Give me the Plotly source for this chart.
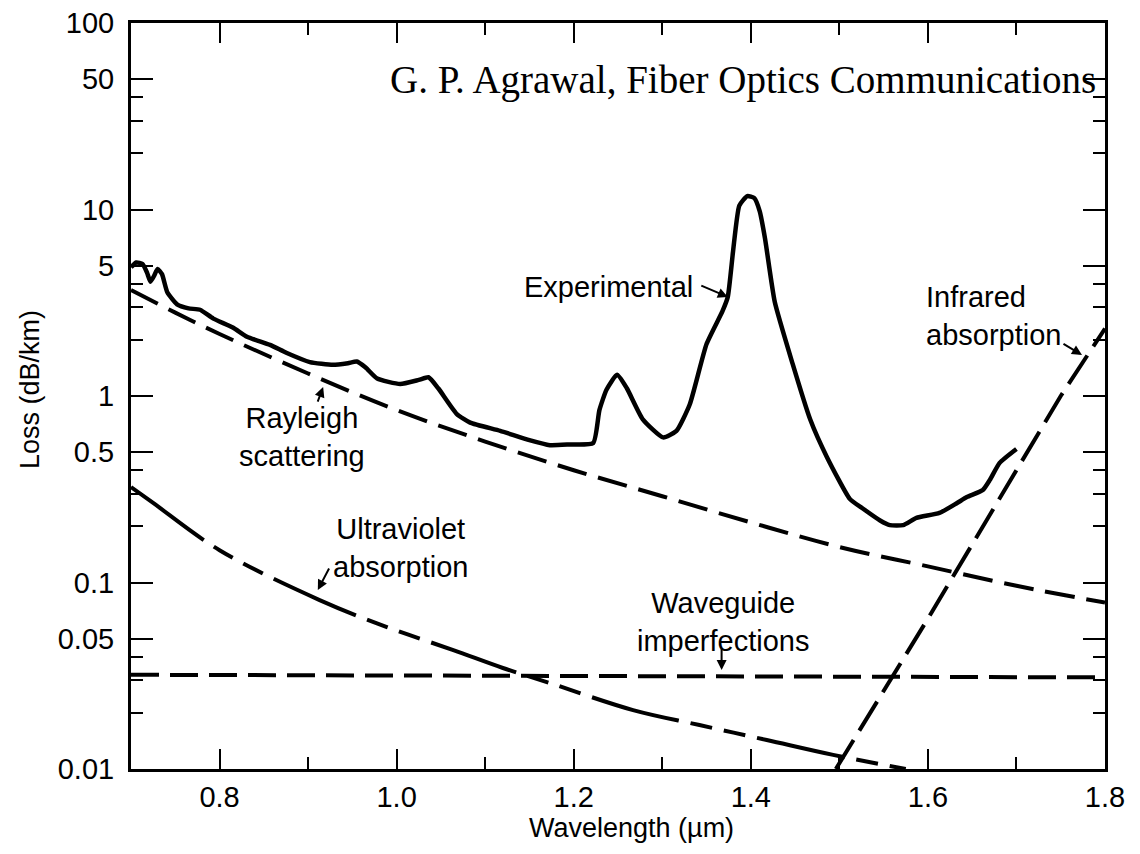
import plotly.graph_objects as go

# Experimental loss curve
exp_wl = [0.700, 0.706, 0.713, 0.718, 0.722, 0.726, 0.730, 0.735, 0.741, 0.752,
          0.765, 0.778, 0.793, 0.815, 0.831, 0.857, 0.876, 0.902, 0.928, 0.945,
          0.955, 0.965, 0.978, 1.004, 1.025, 1.036, 1.047, 1.068, 1.083, 1.117,
          1.150, 1.173, 1.196, 1.222, 1.229, 1.237, 1.249, 1.260, 1.278, 1.301,
          1.316, 1.331, 1.350, 1.368, 1.374, 1.380, 1.387, 1.396, 1.404, 1.410,
          1.416, 1.427, 1.447, 1.467, 1.486, 1.512, 1.526, 1.546, 1.557, 1.572,
          1.587, 1.613, 1.633, 1.644, 1.662, 1.670, 1.681, 1.700]
exp_loss = [4.9, 5.2, 5.1, 4.6, 4.1, 4.4, 4.8, 4.5, 3.6, 3.1,
            2.95, 2.9, 2.6, 2.33, 2.08, 1.88, 1.70, 1.52, 1.47, 1.50,
            1.53, 1.42, 1.24, 1.16, 1.22, 1.26, 1.10, 0.80, 0.72, 0.65,
            0.58, 0.545, 0.55, 0.56, 0.84, 1.08, 1.30, 1.10, 0.75, 0.60,
            0.65, 0.90, 1.90, 2.85, 3.40, 6.0, 10.5, 11.8, 11.5, 9.8,
            7.0, 3.2, 1.50, 0.75, 0.47, 0.28, 0.25, 0.215, 0.203, 0.203,
            0.222, 0.236, 0.267, 0.287, 0.313, 0.355, 0.438, 0.52]

# Rayleigh scattering
ray_wl = [0.70, 0.75, 0.80, 0.90, 1.00, 1.10, 1.20, 1.30, 1.40, 1.50, 1.60, 1.70, 1.80]
ray_loss = [3.7, 2.8, 2.15, 1.32, 0.84, 0.57, 0.40, 0.29, 0.21, 0.155, 0.122, 0.096, 0.078]

# Ultraviolet absorption
uv_wl = [0.70, 0.725, 0.80, 0.913, 0.989, 1.064, 1.120, 1.173, 1.267, 1.342, 1.418, 1.493, 1.575]
uv_loss = [0.325, 0.267, 0.149, 0.0805, 0.0577, 0.0434, 0.0348, 0.0289, 0.0207, 0.0172, 0.0143, 0.0119, 0.0100]

# Waveguide imperfections
wg_wl = [0.70, 1.80]
wg_loss = [0.032, 0.031]

# Infrared absorption
ir_wl = [1.496, 1.55, 1.60, 1.65, 1.70, 1.75, 1.80]
ir_loss = [0.010, 0.026, 0.064, 0.16, 0.40, 1.0, 2.3]

y_ticks = [0.01, 0.05, 0.1, 0.5, 1, 5, 10, 50, 100]
y_labels = ["0.01", "0.05", "0.1", "0.5", "1", "5", "10", "50", "100"]
y_minor = [0.02, 0.03, 0.04, 0.2, 0.3, 0.4, 2, 3, 4, 20, 30, 40]
x_ticks = [0.8, 1.0, 1.2, 1.4, 1.6, 1.8]
x_labels = ["0.8", "1.0", "1.2", "1.4", "1.6", "1.8"]
x_minor = [0.9, 1.1, 1.3, 1.5, 1.7]

SANS = "Liberation Sans, Arial, sans-serif"

fig = go.Figure()
fig.add_trace(go.Scatter(x=wg_wl, y=wg_loss, mode="lines",
                         line=dict(color="black", width=4, dash="28px,11px")))
fig.add_trace(go.Scatter(x=uv_wl, y=uv_loss, mode="lines", line_shape="spline",
                         line=dict(color="black", width=4,
                                   dash="90px,12px,22px,12px,22px,12px")))
fig.add_trace(go.Scatter(x=ray_wl, y=ray_loss, mode="lines", line_shape="spline",
                         line=dict(color="black", width=4, dash="30px,12px")))
fig.add_trace(go.Scatter(x=ir_wl, y=ir_loss, mode="lines",
                         line=dict(color="black", width=4, dash="34px,11px")))
fig.add_trace(go.Scatter(x=exp_wl, y=exp_loss, mode="lines", line_shape="spline",
                         line=dict(color="black", width=4.5, smoothing=0.5)))

def label(text, x, y, xanchor="center", align="center"):
    fig.add_annotation(x=x, y=y, text=text, showarrow=False, xanchor=xanchor,
                       align=align, font=dict(family=SANS, size=29, color="black"))

def pointer(x, y, ax, ay):
    fig.add_annotation(x=x, y=y, ax=ax, ay=ay, text="", showarrow=True,
                       arrowhead=2, arrowsize=1, arrowwidth=2, arrowcolor="black")

label("Experimental", 1.337, 0.584, xanchor="right")
pointer(1.374, 0.531, -28, -12)
label("Rayleigh<br>scattering", 0.893, -0.22)
pointer(0.917, 0.048, -6, 16)
label("Ultraviolet<br>absorption", 1.004, -0.815)
pointer(0.911, -1.04, 12, -23)
label("Waveguide<br>imperfections", 1.369, -1.212)
pointer(1.367, -1.469, 0, -23)
label("Infrared<br>absorption", 1.596, 0.429, xanchor="left", align="left")
pointer(1.774, 0.22, -20, -12)

fig.add_annotation(x=1.792, y=1.694, text="G. P. Agrawal, Fiber Optics Communications",
                   showarrow=False, xanchor="right",
                   font=dict(family="Liberation Serif, Times New Roman, serif",
                             size=39, color="black"))

# axis titles placed as paper annotations
fig.add_annotation(xref="paper", yref="paper", x=0.514, y=-0.079, text="Wavelength (µm)",
                   showarrow=False, yanchor="middle",
                   font=dict(family=SANS, size=27, color="black"))
fig.add_annotation(xref="paper", yref="paper", x=-0.103, y=0.509, text="Loss (dB/km)",
                   showarrow=False, textangle=-90, xanchor="center", yanchor="middle",
                   font=dict(family=SANS, size=27, color="black"))

# page body has an 8px margin, so the figure is sized to fit the window
fig.update_layout(
    width=1124, height=838,
    margin=dict(l=123, r=27, t=15, b=77),
    plot_bgcolor="white", paper_bgcolor="white",
    showlegend=False,
    font=dict(family=SANS, size=29, color="black"),
)
fig.update_xaxes(
    range=[0.7, 1.8], tickmode="array", tickvals=x_ticks, ticktext=x_labels,
    ticks="inside", ticklen=20, tickwidth=2, tickcolor="black",
    minor=dict(tickmode="array", tickvals=x_minor, ticks="inside", ticklen=12,
               tickwidth=2, tickcolor="black"),
    showline=True, linewidth=3, linecolor="black", mirror="ticks",
    showgrid=False, zeroline=False, ticklabelstandoff=0, automargin=False,
    ticklabeloverflow="allow",
)
fig.update_yaxes(
    type="log", range=[-2, 2], tickmode="array", tickvals=y_ticks, ticktext=y_labels,
    ticks="inside", ticklen=22, tickwidth=2, tickcolor="black",
    minor=dict(tickmode="array", tickvals=y_minor, ticks="inside", ticklen=12,
               tickwidth=2, tickcolor="black"),
    showline=True, linewidth=3, linecolor="black", mirror="ticks",
    showgrid=False, zeroline=False, ticklabelstandoff=8, automargin=False,
    ticklabeloverflow="allow",
)

fig.write_html("out.html")
